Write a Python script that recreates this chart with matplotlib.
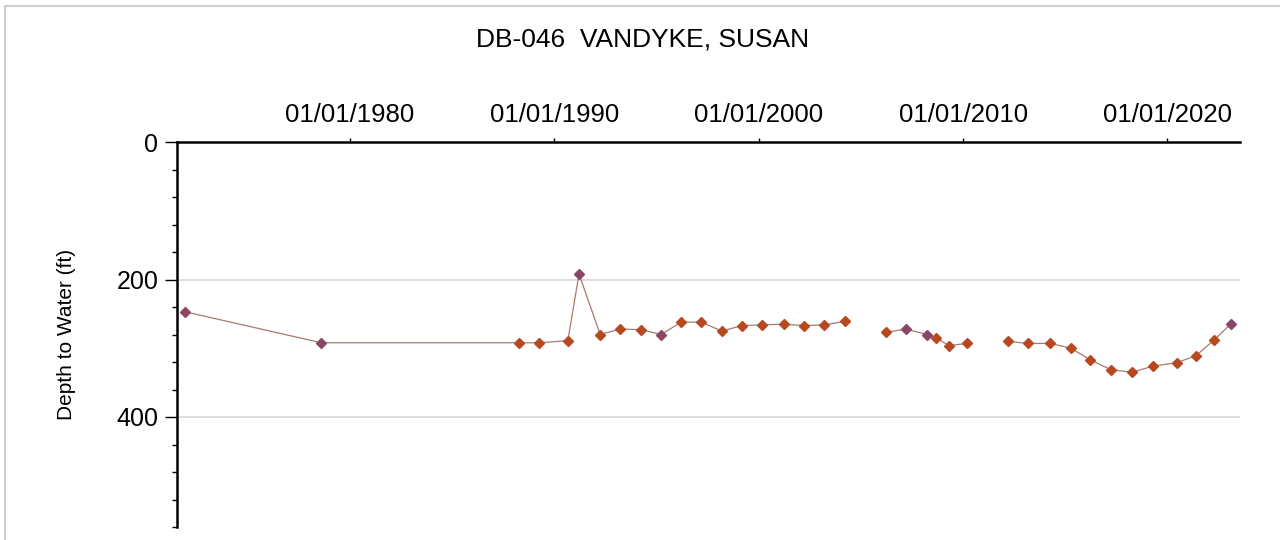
import matplotlib
matplotlib.use("Agg")
import matplotlib.pyplot as plt
import matplotlib.dates as mdates
from matplotlib.lines import Line2D
from matplotlib.ticker import MultipleLocator, FixedLocator
import numpy as np
import pandas as pd

plt.rcParams["font.family"] = ["Liberation Sans", "DejaVu Sans"]

title = "DB-046  VANDYKE, SUSAN"

dates = [
    "1971-12-15", "1978-08-10", "1988-04-15", "1989-04-10", "1990-09-01",
    "1991-03-20", "1992-04-01", "1993-03-25", "1994-04-05", "1995-03-25",
    "1996-03-20", "1997-03-10", "1998-03-15", "1999-03-10", "2000-03-10",
    "2001-04-01", "2002-03-25", "2003-03-20", "2004-03-15",
    "2006-03-25", "2007-03-10", "2008-03-25", "2008-09-01", "2009-04-25",
    "2010-03-20",
    "2012-03-15", "2013-03-01", "2014-04-10", "2015-04-15", "2016-03-20",
    "2017-03-25", "2018-04-05", "2019-04-15", "2020-06-15", "2021-05-20",
    "2022-04-15", "2023-02-15",
]
depth = [
    247, 292, 292, 292, 289,
    192, 280, 272, 273, 280,
    262, 262, 275, 267, 266,
    265, 267, 266, 261,
    277, 272, 280, 285, 296,
    293,
    290, 293, 293, 300, 317,
    331, 335, 326, 321, 311,
    288, 264,
]
# record segment (line breaks between segments)
segment = [0] * 19 + [1] * 6 + [2] * 12
# measurement flag (0 = regular, 1 = other)
flag = [1, 1, 0, 0, 0, 1, 0, 0, 0, 1, 0, 0, 0, 0, 0, 0, 0, 0, 0,
        0, 1, 1, 0, 0, 0, 0, 0, 0, 0, 0, 0, 0, 0, 0, 0, 0, 1]

df = pd.DataFrame({"date": pd.to_datetime(dates), "depth": depth,
                   "segment": segment, "flag": flag})

W, H = 1280, 540
fig = plt.figure(figsize=(W / 100, H / 100), dpi=100)
ax = fig.add_axes([177 / W, 1 - 527 / H, (1240 - 177) / W, (527 - 142) / H])

for seg, part in df.groupby("segment"):
    ax.plot(part["date"], part["depth"], color="#a97a70", linewidth=0.9, zorder=2)

marker_colours = {0: "#b8481f", 1: "#8a4866"}
for f, part in df.groupby("flag"):
    ax.plot(part["date"], part["depth"], linestyle="None", marker="D",
            markersize=5.5, color=marker_colours[f], zorder=3)

ax.set_ylim(560, 0)
ax.set_xlim(pd.Timestamp("1971-07-20"), pd.Timestamp("2023-07-20"))

ax.yaxis.set_major_locator(FixedLocator([0, 200, 400]))
ax.yaxis.set_minor_locator(MultipleLocator(40))
ax.xaxis.set_major_locator(mdates.YearLocator(10))
ax.xaxis.set_major_formatter(mdates.DateFormatter("%m/%d/%Y"))
ax.xaxis.tick_top()

for y in [200, 400]:
    ax.axhline(y, color="#d8d8d8", linewidth=1.2, zorder=1)

ax.spines["right"].set_visible(False)
ax.spines["bottom"].set_visible(False)
ax.spines["top"].set_linewidth(1.8)
ax.spines["left"].set_linewidth(1.8)

ax.tick_params(axis="y", which="major", length=8.5, width=1, labelsize=18, pad=5)
ax.tick_params(axis="y", which="minor", length=3.6, width=1)
ax.tick_params(axis="x", which="major", direction="out", length=3, width=1,
               labelsize=18.5, pad=8)

ax.set_ylabel("Depth to Water (ft)", fontsize=15)
ax.yaxis.set_label_coords(-0.095, 0.5)

fig.text(643 / W, 1 - 39 / H, title, fontsize=19, ha="center", va="center")

# figure frame
fig.add_artist(Line2D([5 / W, 5 / W], [0, 1 - 6 / H], color="#cfcfcf", linewidth=1.5))
fig.add_artist(Line2D([5 / W, 1], [1 - 6 / H, 1 - 6 / H], color="#cfcfcf", linewidth=1.5))

fig.savefig("out.png", dpi=100)
